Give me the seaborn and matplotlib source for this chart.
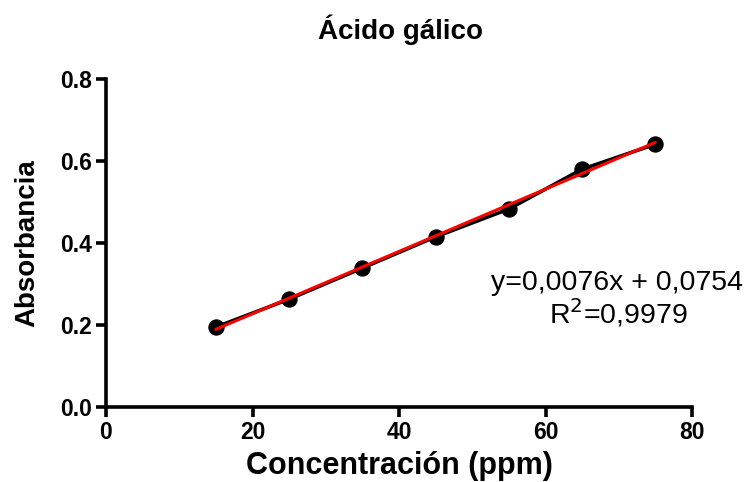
import matplotlib
matplotlib.use("Agg")
import matplotlib.pyplot as plt
import seaborn as sns
import numpy as np
import pandas as pd

# Calibration data for gallic acid
concentracion = [15, 25, 35, 45, 55, 65, 75]
absorbancia = [0.195, 0.263, 0.339, 0.415, 0.483, 0.580, 0.641]
pendiente = 0.0076
intercepto = 0.0754
r2 = 0.9979
x_ticks = [0, 20, 40, 60, 80]
y_ticks = [0.0, 0.2, 0.4, 0.6, 0.8]

sns.set_theme(style="ticks")
plt.rcParams["font.family"] = ["Liberation Sans", "DejaVu Sans"]
plt.rcParams["text.color"] = "black"
plt.rcParams["axes.labelcolor"] = "black"
plt.rcParams["xtick.color"] = "black"
plt.rcParams["ytick.color"] = "black"

df = pd.DataFrame({"x": concentracion, "y": absorbancia})
x_fit = np.array([min(concentracion), max(concentracion)])
fit = pd.DataFrame({"x": x_fit, "y": pendiente * x_fit + intercepto})

fig = plt.figure(figsize=(7.49, 4.82), dpi=100)
W, H = 749, 482
ax = fig.add_axes([106 / W, (H - 407) / H, (692 - 106) / W, (407 - 79) / H])

sns.lineplot(data=df, x="x", y="y", ax=ax, color="black", lw=2.6,
             marker="o", markersize=11, markeredgecolor="black", clip_on=False)
sns.lineplot(data=fit, x="x", y="y", ax=ax, color="red", lw=2.2, clip_on=False)

ax.set_xlim(0, 80)
ax.set_ylim(0, 0.8)
ax.set_xticks(x_ticks)
ax.set_yticks(y_ticks)
ax.set_xticklabels([str(v) for v in x_ticks], fontsize=16.5, fontweight="bold")
ax.set_yticklabels([f"{v:.1f}" for v in y_ticks], fontsize=16.5, fontweight="bold")
ax.tick_params(axis="both", length=7, width=2.6, pad=3)

for side in ["top", "right"]:
    ax.spines[side].set_visible(False)
for side in ["left", "bottom"]:
    ax.spines[side].set_linewidth(2.6)
    ax.spines[side].set_color("black")

ax.set_xlabel("Concentración (ppm)", fontsize=22, fontweight="bold", labelpad=5)
ax.set_ylabel("Absorbancia", fontsize=20, fontweight="bold", labelpad=14)
fig.text(400 / W, 1 - 30 / H, "Ácido gálico", fontsize=20, fontweight="bold",
         ha="center", va="center")

fig.text(617 / W, 1 - 283 / H,
         f"y={pendiente:.4f}x + {intercepto:.4f}".replace(".", ","),
         ha="center", va="center", fontsize=20.5)
fig.text(618 / W, 1 - 313 / H, f"R$^2$={r2:.4f}".replace(".", ","),
         ha="center", va="center", fontsize=20.5)

fig.savefig("out.png", dpi=100)
